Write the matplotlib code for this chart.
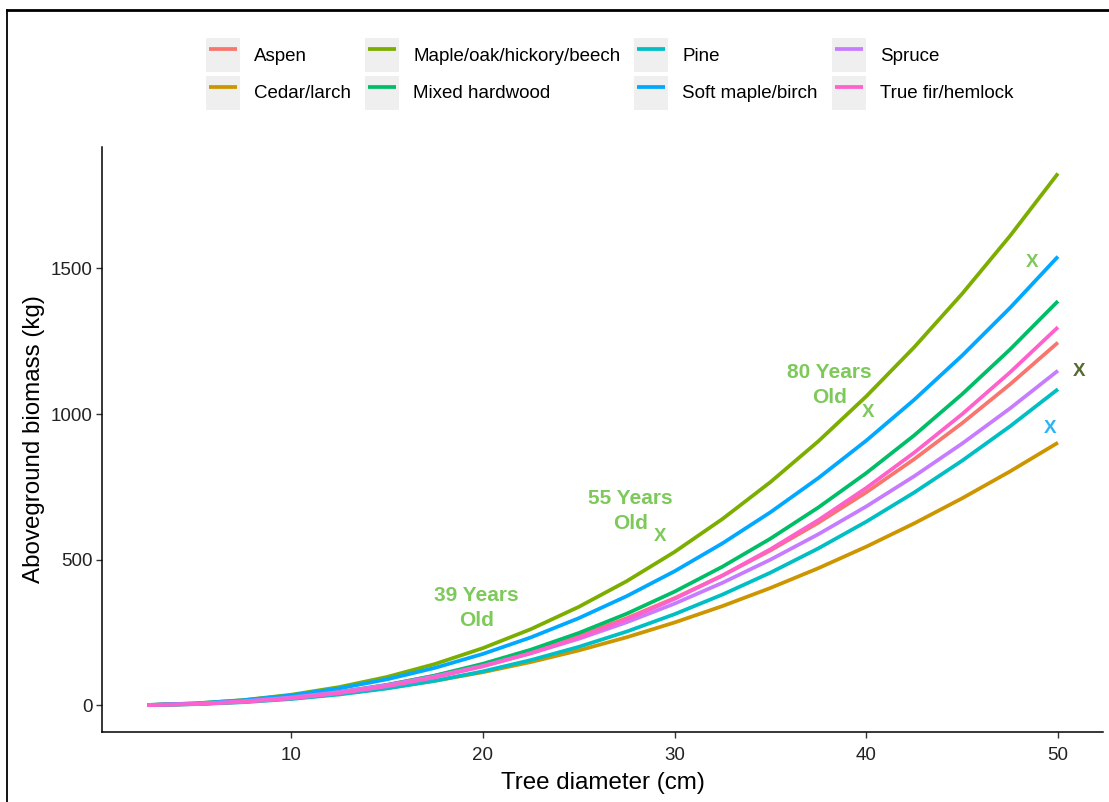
import matplotlib
matplotlib.use('Agg')
import matplotlib.pyplot as plt
from matplotlib.legend_handler import HandlerLine2D
from matplotlib.patches import Rectangle
from matplotlib.lines import Line2D

plt.rcParams['font.family'] = ['Liberation Sans', 'DejaVu Sans']

# Tree diameter (cm)
diameter = [2.5, 5, 7.5, 10, 12.5, 15, 17.5, 20, 22.5, 25,
            27.5, 30, 32.5, 35, 37.5, 40, 42.5, 45, 47.5, 50]

# Aboveground biomass (kg)
aspen = [1.0, 5.1, 13.5, 26.7, 45.5, 70.4, 101.7, 139.8, 185.2, 238.2,
         299.0, 368.1, 445.5, 531.7, 626.9, 731.3, 845.2, 968.7, 1102.1, 1245.7]
cedar_larch = [1.0, 5.0, 12.4, 23.8, 39.4, 59.4, 84.2, 113.8, 148.5, 188.4,
               233.6, 284.4, 340.8, 402.9, 470.8, 544.7, 624.7, 710.8, 803.2, 901.8]
maple_oak = [1.2, 6.7, 18.0, 36.3, 62.5, 97.4, 141.8, 196.3, 261.4, 337.9,
             426.1, 526.6, 639.9, 766.4, 906.6, 1060.8, 1229.5, 1413.0, 1611.8, 1826.1]
mixed_hardwood = [0.8, 4.6, 12.5, 25.5, 44.4, 69.8, 102.3, 142.6, 191.0, 248.2,
                  314.4, 390.3, 476.1, 572.3, 679.3, 797.4, 926.9, 1068.3, 1221.9, 1387.8]
pine = [0.7, 4.0, 10.7, 21.6, 37.1, 57.9, 84.2, 116.6, 155.3, 200.7,
        253.2, 312.9, 380.3, 455.5, 538.8, 630.5, 730.7, 839.9, 958.0, 1085.5]
soft_maple = [1.3, 6.6, 17.3, 34.2, 58.0, 89.3, 128.6, 176.4, 233.1, 299.1,
              374.7, 460.3, 556.2, 662.8, 780.3, 908.9, 1049.1, 1200.9, 1364.7, 1540.8]
spruce = [1.1, 5.3, 13.8, 26.9, 45.3, 69.3, 99.3, 135.6, 178.5, 228.2,
          285.0, 349.1, 420.7, 500.1, 587.4, 682.8, 786.6, 898.7, 1019.5, 1149.1]
true_fir = [0.8, 4.3, 11.7, 23.9, 41.6, 65.5, 96.0, 133.6, 179.0, 232.5,
            294.5, 365.5, 445.8, 535.8, 635.9, 746.3, 867.5, 999.7, 1143.2, 1298.4]

species = ['Aspen', 'Cedar/larch', 'Maple/oak/hickory/beech', 'Mixed hardwood',
           'Pine', 'Soft maple/birch', 'Spruce', 'True fir/hemlock']
biomass = [aspen, cedar_larch, maple_oak, mixed_hardwood,
           pine, soft_maple, spruce, true_fir]
colors = ['#F8766D', '#CD9600', '#7CAE00', '#00BE67',
          '#00BFC4', '#00A9FF', '#C77CFF', '#FF61CC']

# age annotations (two lines each)
age_labels = [('39 Years', 'Old'), ('55 Years', 'Old'), ('80 Years', 'Old')]
age_x = [19.65, 27.7, 38.1]
age_y = [334, 666, 1100]

# X markers
mark_x = [29.25, 40.1, 48.65, 51.1, 49.6]
mark_y = [578, 1004, 1522, 1147, 949]
mark_colors = ['#7DC95A', '#7DC95A', '#7DC95A', '#556B2F', '#29B5F6']


class KeyHandler(HandlerLine2D):
    # ggplot-like legend key: grey square behind the line
    def create_artists(self, legend, orig_handle, xdescent, ydescent,
                       width, height, fontsize, trans):
        bg = Rectangle((-xdescent, -ydescent), width, height,
                       facecolor='#EFEFEF', edgecolor='none', transform=trans)
        arts = super().create_artists(legend, orig_handle, xdescent, ydescent,
                                      width, height, fontsize, trans)
        return [bg] + arts


fig = plt.figure(figsize=(11.09, 8.02), dpi=100)
ax = fig.add_axes([0.092, 0.0873, 0.9026, 0.7294])

handles = []
for name, vals, c in zip(species, biomass, colors):
    h, = ax.plot(diameter, vals, color=c, lw=2.7, label=name,
                 solid_capstyle='butt')
    handles.append(h)

for (top, bottom), x, y in zip(age_labels, age_x, age_y):
    for txt, dy in ((top, 9), (bottom, -9)):
        ax.annotate(txt, (x, y), xytext=(0, dy), textcoords='offset points',
                    color='#7DC95A', fontsize=15, fontweight='bold',
                    ha='center', va='center')

for x, y, c in zip(mark_x, mark_y, mark_colors):
    ax.text(x, y, 'X', color=c, fontsize=13.5, fontweight='bold',
            ha='center', va='center', clip_on=False)

ax.set_xlim(0.14, 52.35)
ax.set_ylim(-91.5, 1917)
ax.set_xticks([10, 20, 30, 40, 50])
ax.set_yticks([0, 500, 1000, 1500])

for s in ['top', 'right']:
    ax.spines[s].set_visible(False)
for s in ['left', 'bottom']:
    ax.spines[s].set_linewidth(1.1)
    ax.spines[s].set_color('black')
ax.tick_params(axis='both', length=4.5, width=1.0, color='#333333',
               labelsize=13.5, labelcolor='#222222')
ax.tick_params(axis='x', pad=6)
ax.tick_params(axis='y', pad=2.5)

ax.set_xlabel('Tree diameter (cm)', fontsize=17.4, labelpad=6)
ax.set_ylabel('Aboveground biomass (kg)', fontsize=17.4, labelpad=4)

leg = fig.legend(handles=handles, labels=species, ncol=4,
                 loc='center', bbox_to_anchor=(0.5499, 0.908),
                 frameon=False, fontsize=13.5,
                 handler_map={Line2D: KeyHandler(marker_pad=0.16, numpoints=2)},
                 handlelength=1.81, handleheight=2.41, handletextpad=0.75,
                 columnspacing=0.75, labelspacing=0.2, borderpad=0)
for lh in leg.get_lines():
    lh.set_linewidth(3.2)

# outer border (left and top edges visible in the reference)
fig.add_artist(Line2D([6.5 / 1109, 6.5 / 1109], [0, 1 - 9.5 / 802],
                      transform=fig.transFigure, color='black', lw=1.3))
fig.add_artist(Line2D([6.5 / 1109, 1], [1 - 9.5 / 802, 1 - 9.5 / 802],
                      transform=fig.transFigure, color='black', lw=2.0))

fig.savefig('out.png', dpi=100)
